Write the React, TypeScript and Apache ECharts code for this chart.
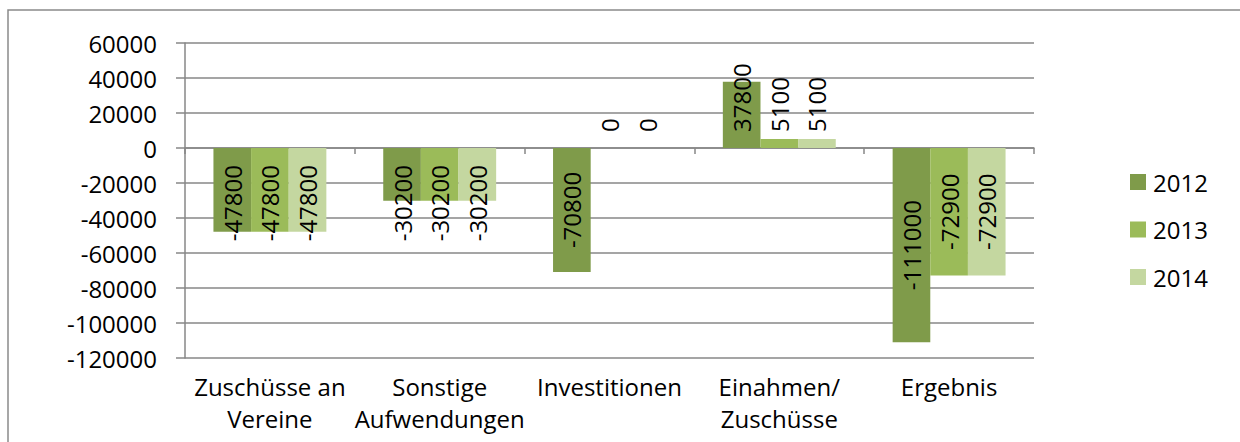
import React, { useEffect, useRef } from "react";
import * as echarts from "echarts";

const categories = [
  "Zuschüsse an\nVereine",
  "Sonstige\nAufwendungen",
  "Investitionen",
  "Einahmen/\nZuschüsse",
  "Ergebnis",
];
const seriesNames = ["2012", "2013", "2014"];
const values2012 = [-47800, -30200, -70800, 37800, -111000];
const values2013 = [-47800, -30200, 0, 5100, -72900];
const values2014 = [-47800, -30200, 0, 5100, -72900];
const seriesValues = [values2012, values2013, values2014];
const colors = ["#7f9b4a", "#9bbb59", "#c4d7a0"];
const yMin = -120000;
const yMax = 60000;
const yInterval = 20000;

const FONT = "'Open Sans', 'Noto Sans', sans-serif";
const GRID_COLOR = "#878787";

export default function App() {
  const ref = useRef<HTMLDivElement>(null);
  useEffect(() => {
    if (!ref.current) return;
    const chart = echarts.init(ref.current, undefined, { renderer: "svg" });
    const option: any = {
      animation: false,
      backgroundColor: "#ffffff",
      textStyle: { fontFamily: FONT },
      graphic: [
        {
          type: "rect",
          shape: { x: 8, y: 10, width: 1400, height: 700 },
          style: { fill: "none", stroke: "#8a8a8a", lineWidth: 1.5 },
          silent: true,
        },
      ],
      grid: { left: 185, right: 206, top: 43, bottom: 84, containLabel: false },
      legend: {
        orient: "vertical",
        left: 1130,
        top: 169,
        padding: 0,
        icon: "rect",
        itemWidth: 16,
        itemHeight: 16,
        itemGap: 21.5,
        data: seriesNames,
        textStyle: { fontFamily: FONT, fontSize: 24, color: "#000", lineHeight: 26, padding: [0, 0, 0, 2] },
      },
      xAxis: [
        {
          type: "category",
          data: categories,
          axisLine: { show: true, onZero: true, lineStyle: { color: GRID_COLOR, width: 1.5 } },
          axisTick: { show: true, length: 6, inside: false, lineStyle: { color: GRID_COLOR, width: 1.5 } },
          axisLabel: { show: false },
          splitLine: { show: false },
        },
        {
          type: "category",
          data: categories,
          position: "bottom",
          axisLine: { show: false, onZero: false },
          axisTick: { show: false },
          axisLabel: {
            show: true,
            margin: 12,
            fontFamily: FONT,
            fontSize: 24,
            lineHeight: 32,
            color: "#000",
            interval: 0,
          },
        },
      ],
      yAxis: {
        type: "value",
        min: yMin,
        max: yMax,
        interval: yInterval,
        axisLine: { show: true, lineStyle: { color: GRID_COLOR, width: 1.5 } },
        axisTick: { show: true, length: 9, inside: false, lineStyle: { color: GRID_COLOR, width: 1.5 } },
        splitLine: { show: true, lineStyle: { color: GRID_COLOR, width: 1.5 } },
        axisLabel: {
          margin: 28,
          fontFamily: FONT,
          fontSize: 24,
          color: "#000",
          formatter: (v: number) => String(v),
        },
      },
      series: seriesNames.map((name, i) => ({
        name,
        type: "bar",
        xAxisIndex: 0,
        data: seriesValues[i],
        barGap: "0%",
        barCategoryGap: "33.5%",
        itemStyle: { color: colors[i] },
        label: {
          show: true,
          position: "inside",
          rotate: 90,
          align: "center",
          verticalAlign: "middle",
          fontFamily: FONT,
          fontSize: 24,
          color: "#000",
          formatter: (p: any) => String(p.value),
        },
        labelLayout: (p: any) => {
          const v = seriesValues[p.seriesIndex][p.dataIndex];
          const r = p.rect;
          const h = p.labelRect.height;
          const cx = r.x + r.width / 2;
          let cy = r.y + r.height / 2;
          if (v < 0) {
            const zeroY = r.y;
            cy = Math.max(cy, zeroY + 17 + h / 2);
          } else {
            const zeroY = r.y + r.height;
            cy = Math.min(cy, zeroY - 16 - h / 2);
          }
          return { x: cx, y: cy, align: "center", verticalAlign: "middle" };
        },
      })),
    };
    chart.setOption(option);
    return () => chart.dispose();
  }, []);
  return (
    <div
      ref={ref}
      style={{ position: "fixed", left: 0, top: 0, width: 1240, height: 442 }}
    />
  );
}
